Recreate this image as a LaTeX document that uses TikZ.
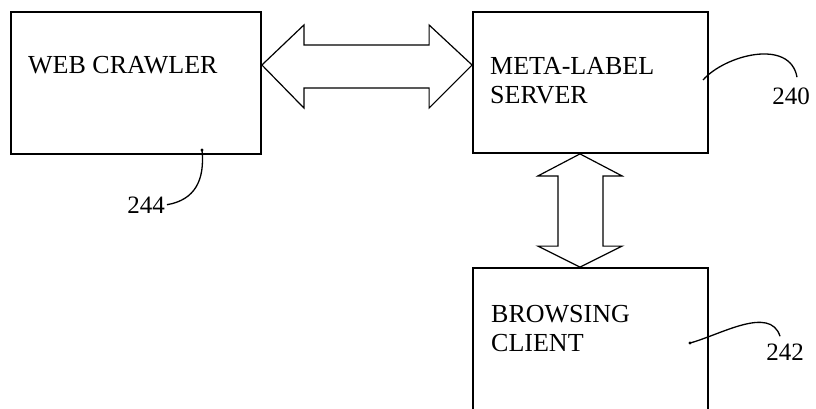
\documentclass[tikz,border=0pt]{standalone}
\usepackage{fontspec}
\setmainfont{Liberation Serif}
\usetikzlibrary{calc}

\begin{document}
\begin{tikzpicture}[
    x=1pt, y=-1pt,
    box/.style={
        draw,
        line width=1.8pt,
        inner sep=0pt
    },
    boxtext/.style={
        font=\fontsize{26}{29}\selectfont,
        align=left,
        inner sep=0pt
    },
    refnum/.style={
        font=\fontsize{25}{29}\selectfont,
        inner sep=0pt
    },
    fat/.style={
        draw,
        line width=1.2pt,
        line join=miter
    },
    leader/.style={
        line width=1.3pt
    }
]

% Page
\useasboundingbox (0,0) rectangle (816,409);
\fill[white] (0,0) rectangle (816,409);
\clip (0,0) rectangle (816,409);

% Web crawler (left)
\node[box, minimum width=250, minimum height=142] (web) at (136,83) {};
\node[boxtext, anchor=base west] (webtxt) at (28,74) {WEB CRAWLER};

% Meta-label server (right)
\node[box, minimum width=235, minimum height=141] (meta) at (590.5,82.5) {};
\node[boxtext, anchor=base west] (metatxt) at (490,104) {META-LABEL\\SERVER};

% Browsing client (bottom)
\node[box, minimum width=235, minimum height=200] (client) at (590.5,368) {};
\node[boxtext, anchor=base west] (clienttxt) at (491,351) {BROWSING\\CLIENT};

% Reference numbers
\node[refnum, anchor=base] (n240) at (791,105) {240};
\node[refnum, anchor=base] (n242) at (785,360) {242};
\node[refnum, anchor=base] (n244) at (146,213) {244};

% Double arrow web <-> meta
\coordinate (ta) at ([yshift=18]web.east);
\coordinate (tb) at ([yshift=17.5]meta.west);
\draw[fat] (ta) -- ++(42,-40) -- ++(0,20) -- ($(tb)+(-43,-20)$) -- ++(0,-20)
    -- (tb) -- ++(-43,43) -- ++(0,-20) -- ($(ta)+(42,23)$) -- ++(0,20) -- cycle;

% Double arrow meta <-> client
\coordinate (tc) at ([xshift=-10.5]meta.south);
\coordinate (td) at ([xshift=-10.5]client.north);
\draw[fat] (tc) -- ++(42,22) -- ++(-19,0) -- ($(td)+(23,-21)$) -- ++(19,0)
    -- (td) -- ++(-42,-21) -- ++(20,0) -- ($(tc)+(-22,22)$) -- ++(-20,0) -- cycle;

% Leaders
\coordinate (p240) at (703,80);
\coordinate (p242) at (690,343);
\coordinate (p244) at (202,150);
\draw[leader] (p240) .. controls (725,55) and (790,38) .. ([xshift=6,yshift=11]n240.north);
\draw[leader] (p242) .. controls (720,335) and (770,305) .. ([xshift=-5,yshift=7]n242.north);
\draw[leader] (p244) .. controls (205,180) and (195,200) .. ([xshift=2]n244.east);
\fill (p242) circle (1.6);
\fill (p244) circle (1.6);

\end{tikzpicture}
\end{document}
